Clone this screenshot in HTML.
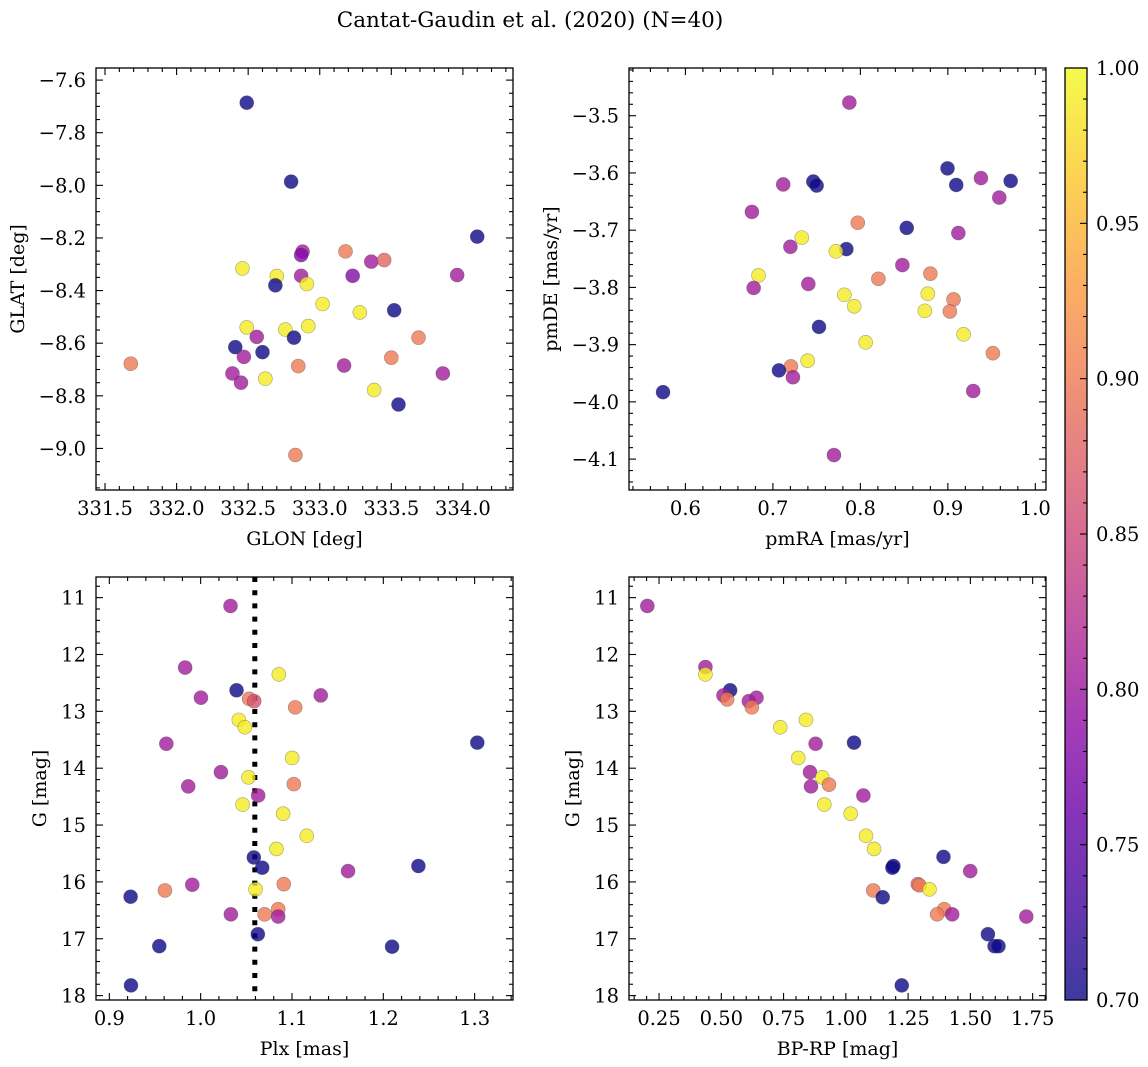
<!DOCTYPE html>
<html><head><meta charset="utf-8"><style>
html,body{margin:0;padding:0;background:#fff}
svg{display:block}
text{font-family:"DejaVu Serif","Liberation Serif",serif;fill:#000}
</style></head><body>
<svg id="fig" width="1148" height="1067" viewBox="0 0 1148 1067" xmlns="http://www.w3.org/2000/svg">
<text x="530" y="27" font-size="21.5" text-anchor="middle">Cantat-Gaudin et al. (2020) (N=40)</text>
</svg>
<script>
// ---- data ----
const p1x=[332.49,332.80,334.10,333.18,332.88,332.87,333.36,333.45,332.46,332.70,333.23,332.87,333.96,332.69,332.91,333.02,333.28,333.52,332.49,332.76,332.92,332.56,332.82,333.69,332.41,332.60,332.47,333.50,331.68,332.85,333.17,332.39,333.86,332.45,332.62,333.38,333.55,332.83];
const p1y=[-7.686,-7.986,-8.195,-8.251,-8.252,-8.265,-8.29,-8.284,-8.316,-8.345,-8.344,-8.344,-8.341,-8.38,-8.375,-8.451,-8.483,-8.475,-8.54,-8.548,-8.535,-8.576,-8.579,-8.579,-8.615,-8.634,-8.652,-8.655,-8.678,-8.687,-8.685,-8.715,-8.715,-8.75,-8.735,-8.778,-8.833,-9.025];
const p1c=[0.70,0.70,0.70,0.90,0.805,0.78,0.805,0.88,0.99,0.99,0.78,0.805,0.805,0.70,0.99,0.99,0.99,0.70,0.99,0.99,0.99,0.805,0.70,0.90,0.70,0.70,0.805,0.90,0.90,0.90,0.805,0.805,0.805,0.805,0.99,0.99,0.70,0.90];

const p2x=[0.7874,0.8996,0.7462,0.750,0.7118,0.9096,0.9378,0.9718,0.9588,0.676,0.797,0.853,0.912,0.733,0.720,0.784,0.772,0.848,0.880,0.8206,0.6836,0.7405,0.678,0.7817,0.8771,0.9065,0.793,0.8737,0.9023,0.7527,0.918,0.806,0.9515,0.7397,0.7206,0.7069,0.7229,0.5744,0.929,0.7698];
const p2y=[-3.477,-3.592,-3.615,-3.622,-3.620,-3.621,-3.609,-3.614,-3.643,-3.668,-3.687,-3.696,-3.705,-3.713,-3.729,-3.733,-3.737,-3.761,-3.776,-3.785,-3.779,-3.794,-3.801,-3.813,-3.811,-3.821,-3.833,-3.841,-3.842,-3.869,-3.882,-3.896,-3.915,-3.928,-3.938,-3.945,-3.957,-3.983,-3.981,-4.093];
const p2c=[0.805,0.70,0.70,0.70,0.805,0.70,0.805,0.70,0.805,0.805,0.90,0.70,0.805,0.99,0.805,0.70,0.99,0.805,0.90,0.90,0.99,0.805,0.805,0.99,0.99,0.90,0.99,0.99,0.90,0.70,0.99,0.99,0.90,0.99,0.90,0.70,0.805,0.70,0.805,0.805];

const p3x=[1.0327,0.983,1.0856,1.0393,1.0003,1.1315,1.0531,1.0586,1.1035,1.0418,1.0484,0.9624,1.3029,1.1002,1.0222,1.0524,1.102,0.9864,1.063,1.0459,1.0903,1.1162,1.083,1.0582,1.0674,1.2384,1.1614,1.091,0.9908,0.9609,1.0601,0.9233,1.0331,1.07,1.0849,1.0849,1.0626,0.9547,1.2096,0.9237];
const p3y=[11.146,12.23,12.35,12.63,12.76,12.72,12.78,12.82,12.93,13.15,13.28,13.57,13.55,13.82,14.07,14.16,14.28,14.32,14.48,14.64,14.80,15.19,15.42,15.57,15.75,15.72,15.81,16.04,16.05,16.15,16.13,16.26,16.57,16.57,16.48,16.61,16.92,17.13,17.14,17.82];
const p3c=[0.805,0.805,0.99,0.70,0.805,0.805,0.90,0.86,0.90,0.99,0.99,0.805,0.70,0.99,0.805,0.99,0.90,0.805,0.805,0.99,0.99,0.99,0.99,0.70,0.70,0.70,0.805,0.90,0.805,0.90,0.99,0.70,0.805,0.90,0.90,0.805,0.70,0.70,0.70,0.70];
const plxLine=1.0593;

const p4x=[0.203,0.4363,0.4363,0.5355,0.5087,0.5235,0.6106,0.6414,0.6227,0.8398,0.7366,0.8787,1.0328,0.809,0.856,0.9055,0.9323,0.86,1.0704,0.9135,1.0194,1.0811,1.1133,1.392,1.191,1.187,1.4993,1.2889,1.2956,1.3358,1.11,1.148,1.3948,1.3666,1.427,1.7245,1.5704,1.597,1.613,1.2245];
const p4y=[11.146,12.22,12.35,12.63,12.72,12.79,12.82,12.76,12.93,13.15,13.28,13.57,13.55,13.82,14.07,14.16,14.29,14.32,14.48,14.64,14.80,15.19,15.42,15.56,15.72,15.75,15.81,16.04,16.06,16.13,16.15,16.27,16.48,16.57,16.57,16.61,16.92,17.13,17.13,17.82];
const p4c=[0.805,0.805,0.99,0.70,0.805,0.90,0.805,0.805,0.90,0.99,0.99,0.805,0.70,0.99,0.805,0.99,0.90,0.805,0.805,0.99,0.99,0.99,0.99,0.70,0.70,0.70,0.805,0.88,0.90,0.99,0.90,0.70,0.90,0.90,0.805,0.805,0.70,0.70,0.70,0.70];

const p1xTicks=["331.5","332.0","332.5","333.0","333.5","334.0"];
const p1yTicks=["−7.6","−7.8","−8.0","−8.2","−8.4","−8.6","−8.8","−9.0"];
const p2xTicks=["0.6","0.7","0.8","0.9","1.0"];
const p2yTicks=["−3.5","−3.6","−3.7","−3.8","−3.9","−4.0","−4.1"];
const p3xTicks=["0.9","1.0","1.1","1.2","1.3"];
const gTicks=["11","12","13","14","15","16","17","18"];
const p4xTicks=["0.25","0.50","0.75","1.00","1.25","1.50","1.75"];
const cbTicks=["0.70","0.75","0.80","0.85","0.90","0.95","1.00"];
const cmin=0.70, cmax=1.00;

// ---- helpers ----
const NS="http://www.w3.org/2000/svg";
const svg=document.getElementById('fig');
const TF=19.5, LF=19;
function mk(tag,attrs,parent){const e=document.createElementNS(NS,tag);for(const k in attrs)e.setAttribute(k,attrs[k]);(parent||svg).appendChild(e);return e;}
const plasma=[[13,8,135],[65,4,157],[106,0,168],[143,13,164],[177,42,144],[204,71,120],[225,100,98],[242,132,75],[252,166,54],[252,206,37],[240,249,33]];
function cmap(v){let t=(v-cmin)/(cmax-cmin);t=Math.max(0,Math.min(1,t));const f=t*10;const i=Math.min(9,Math.floor(f));const r=f-i;const a=plasma[i],b=plasma[i+1];return `rgb(${Math.round(a[0]+(b[0]-a[0])*r)},${Math.round(a[1]+(b[1]-a[1])*r)},${Math.round(a[2]+(b[2]-a[2])*r)})`;}
function lin(d0,d1,r0,r1){return v=>r0+(v-d0)*(r1-r0)/(d1-d0);}

function panel(o){
  const g=mk('g',{});
  
  
  const sx=lin(o.xd[0],o.xd[1],o.L,o.R), sy=lin(o.yd[0],o.yd[1],o.T,o.B);
  const clip=mk('clipPath',{id:'c'+o.name},g);mk('rect',{x:o.L,y:o.T,width:o.R-o.L,height:o.B-o.T},clip);
  const pg=mk('g',{'clip-path':`url(#c${o.name})`},g);
  if(o.vline!==undefined){const l=mk('line',{x1:sx(o.vline),x2:sx(o.vline),y1:o.T,y2:o.B,stroke:'#000','stroke-width':5,'stroke-dasharray':'5 8.2'},pg);
    
    }
  for(let i=0;i<o.x.length;i++){
    const c=mk('circle',{cx:sx(o.x[i]),cy:sy(o.y[i]),r:7,fill:cmap(o.c[i]),'fill-opacity':0.8,stroke:'rgba(60,60,60,0.45)','stroke-width':0.6},pg);
    
    
  }
  const tk=mk('g',{stroke:'#000','stroke-width':1.1},g);
  const xmaj=o.xt.map(Number), ymaj=o.yt.map(s=>Number(s.replace('−','-')));
  for(let v=o.xminor[0];v<=o.xd[1]+1e-9;v+=o.xminor[1]){if(v<o.xd[0])continue;const X=sx(v);const isM=xmaj.some(m=>Math.abs(m-v)<1e-6);const len=isM?7:4;
    mk('line',{x1:X,x2:X,y1:o.B,y2:o.B-len},tk);mk('line',{x1:X,x2:X,y1:o.T,y2:o.T+len},tk);}
  const ylo=Math.min(o.yd[0],o.yd[1]),yhi=Math.max(o.yd[0],o.yd[1]);
  for(let v=o.yminor[0];v<=yhi+1e-9;v+=o.yminor[1]){if(v<ylo)continue;const Y=sy(v);const isM=ymaj.some(m=>Math.abs(m-v)<1e-6);const len=isM?7:4;
    mk('line',{x1:o.L,x2:o.L+len,y1:Y,y2:Y},tk);mk('line',{x1:o.R,x2:o.R-len,y1:Y,y2:Y},tk);}
  mk('rect',{x:o.L,y:o.T,width:o.R-o.L,height:o.B-o.T,fill:'none',stroke:'#000','stroke-width':1.3},g);
  o.xt.forEach(s=>{const t=mk('text',{x:sx(Number(s)),y:o.B+25,'font-size':TF,'text-anchor':'middle'},g);t.textContent=s;
    
    });
  o.yt.forEach((s,i)=>{const t=mk('text',{x:o.L-10,y:sy(ymaj[i])+7,'font-size':TF,'text-anchor':'end'},g);t.textContent=s;
    
    });
  const xl=mk('text',{x:(o.L+o.R)/2,y:o.B+55,'font-size':LF,'text-anchor':'middle'},g);xl.textContent=o.xlab;
  
  
  const yc=(o.T+o.B)/2;
  const yl=mk('text',{x:o.ylx,y:yc,'font-size':LF,'text-anchor':'middle',transform:`rotate(-90 ${o.ylx} ${yc})`},g);yl.textContent=o.ylab;
  
  
}

panel({name:'glon-glat-panel',L:96,R:513,T:68,B:490,xd:[331.437,334.35],yd:[-7.554,-9.158],x:p1x,y:p1y,c:p1c,xt:p1xTicks,yt:p1yTicks,xminor:[331.5,0.1],yminor:[-9.15,0.05],xlab:'GLON [deg]',ylab:'GLAT [deg]',ylx:24});
panel({name:'proper-motion-panel',L:629,R:1046,T:68,B:490,xd:[0.5355,1.0122],yd:[-3.4166,-4.154],x:p2x,y:p2y,c:p2c,xt:p2xTicks,yt:p2yTicks,xminor:[0.54,0.02],yminor:[-4.14,0.02],xlab:'pmRA [mas/yr]',ylab:'pmDE [mas/yr]',ylx:557});
panel({name:'parallax-mag-panel',L:96,R:513,T:577,B:1000,xd:[0.8854,1.342],yd:[10.637,18.077],x:p3x,y:p3y,c:p3c,xt:p3xTicks,yt:gTicks,xminor:[0.88,0.02],yminor:[10.6,0.2],xlab:'Plx [mas]',ylab:'G [mag]',ylx:46,vline:plxLine});
panel({name:'cmd-panel',L:629,R:1046,T:577,B:1000,xd:[0.1294,1.8036],yd:[10.637,18.077],x:p4x,y:p4y,c:p4c,xt:p4xTicks,yt:gTicks,xminor:[0.15,0.05],yminor:[10.6,0.2],xlab:'BP-RP [mag]',ylab:'G [mag]',ylx:579});

// colorbar
const cb=mk('g',{});


const defs=mk('defs',{},cb);
const lg=mk('linearGradient',{id:'cbg',x1:0,y1:1,x2:0,y2:0},defs);
for(let i=0;i<=20;i++){const v=cmin+(cmax-cmin)*i/20;mk('stop',{offset:i/20,'stop-color':cmap(v)},lg);}
const CL=1065,CR=1087,CT=68,CB=1000;
const cy=lin(cmin,cmax,CB,CT);
mk('rect',{x:CL,y:CT,width:CR-CL,height:CB-CT,fill:'url(#cbg)','fill-opacity':0.8},cb);
for(let k=0;k<=30;k++){const v=cmin+k*0.01;const Y=cy(v);const len=(k%5===0)?7:4;mk('line',{x1:CR,x2:CR-len,y1:Y,y2:Y,stroke:'#000','stroke-width':1.1},cb);}
mk('rect',{x:CL,y:CT,width:CR-CL,height:CB-CT,fill:'none',stroke:'#000','stroke-width':1.3},cb);
cbTicks.forEach(s=>{const t=mk('text',{x:CR+9,y:cy(Number(s))+7,'font-size':TF},cb);t.textContent=s;
  
  });
</script>
</body></html>
